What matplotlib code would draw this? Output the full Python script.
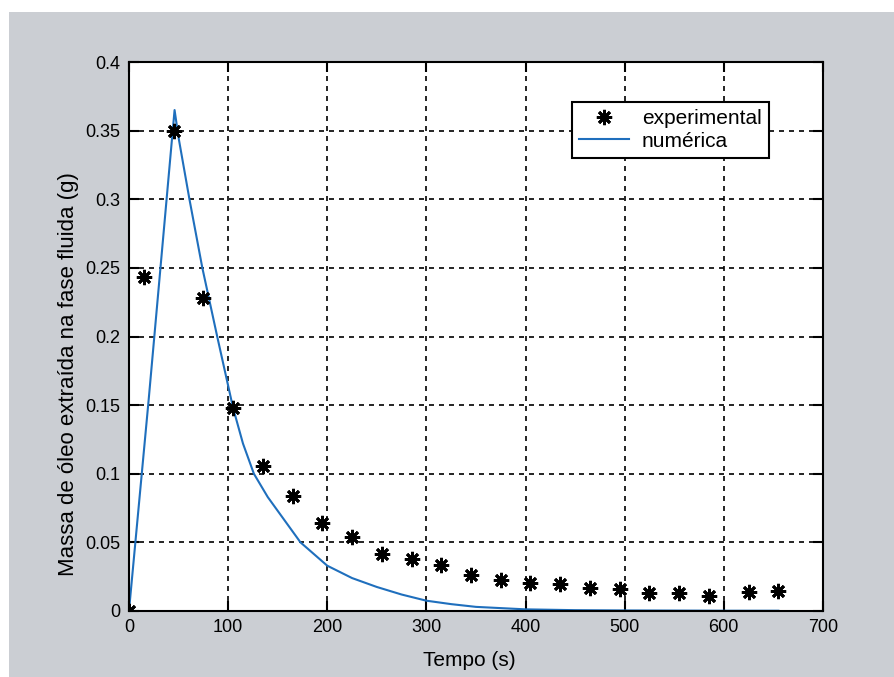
import matplotlib.pyplot as plt
from matplotlib.patches import Rectangle

plt.rcParams['font.family'] = ['Liberation Sans', 'DejaVu Sans']

# experimental points
t_exp = [0, 15, 45, 75, 105, 135, 165, 195, 225, 255, 285, 315, 345, 375, 405,
         435, 465, 495, 525, 555, 585, 625, 655]
m_exp = [0.0, 0.243, 0.350, 0.228, 0.148, 0.106, 0.084, 0.064, 0.054, 0.0415,
         0.038, 0.0335, 0.026, 0.0226, 0.0204, 0.0196, 0.0168, 0.016, 0.013,
         0.013, 0.011, 0.0138, 0.0146]

# numerical solution
t_num = [0, 20, 46, 50, 61, 74, 89, 105, 115, 126, 140, 152, 173, 200, 225,
         250, 275, 300, 325, 350, 400, 450, 500, 550, 600, 655]
m_num = [0.0, 0.155, 0.365, 0.345, 0.30, 0.25, 0.20, 0.148, 0.122, 0.10,
         0.083, 0.071, 0.05, 0.033, 0.024, 0.0175, 0.012, 0.0075, 0.005,
         0.003, 0.0012, 0.0006, 0.0004, 0.0003, 0.0002, 0.0002]

xticks = [0, 100, 200, 300, 400, 500, 600, 700]
yticks = [0, 0.05, 0.1, 0.15, 0.2, 0.25, 0.3, 0.35, 0.4]
yticklabels = ['0', '0.05', '0.1', '0.15', '0.2', '0.25', '0.3', '0.35', '0.4']

fig = plt.figure(figsize=(8.95, 6.77), dpi=100)
fig.patch.set_facecolor('white')
# gray scanned-page background
fig.patches.append(Rectangle((9 / 895, 0), 1, 1 - 12 / 677, transform=fig.transFigure,
                             facecolor='#cbced3', edgecolor='none', zorder=-10))

ax = fig.add_axes([0.1441, 0.0975, 0.7754, 0.8109])
ax.set_facecolor('white')

ax.plot(t_exp, m_exp, linestyle='none', marker=(8, 2, 0), markersize=11,
        markeredgewidth=2, color='black', label='experimental', zorder=3)
ax.plot(t_num, m_num, color='#1f6fbd', linewidth=1.5, label='numérica', zorder=2)

ax.set_xlim(0, 700)
ax.set_ylim(0, 0.4)
ax.set_xticks(xticks)
ax.set_yticks(yticks)
ax.set_yticklabels(yticklabels)
ax.tick_params(direction='in', top=True, right=True, length=7, width=1.5,
               labelsize=13, pad=6)
ax.grid(True, color='black', linestyle=(0, (3, 3)), linewidth=1.2)
for s in ax.spines.values():
    s.set_linewidth(1.5)

ax.set_xlabel('Tempo (s)', fontsize=15)
ax.set_ylabel('Massa de óleo extraída na fase fluida (g)', fontsize=16)
ax.xaxis.set_label_coords(0.491, -0.073)
ax.yaxis.set_label_coords(-0.072, 0.432)

leg = ax.legend(loc='upper right', bbox_to_anchor=(0.922, 0.927), borderaxespad=0,
                fontsize=15, fancybox=False, framealpha=1, edgecolor='black',
                handlelength=2.4, handletextpad=0.6, borderpad=0.35,
                labelspacing=0.15)
leg.get_frame().set_linewidth(1.5)

fig.savefig('out.png', dpi=100, facecolor=fig.get_facecolor())
